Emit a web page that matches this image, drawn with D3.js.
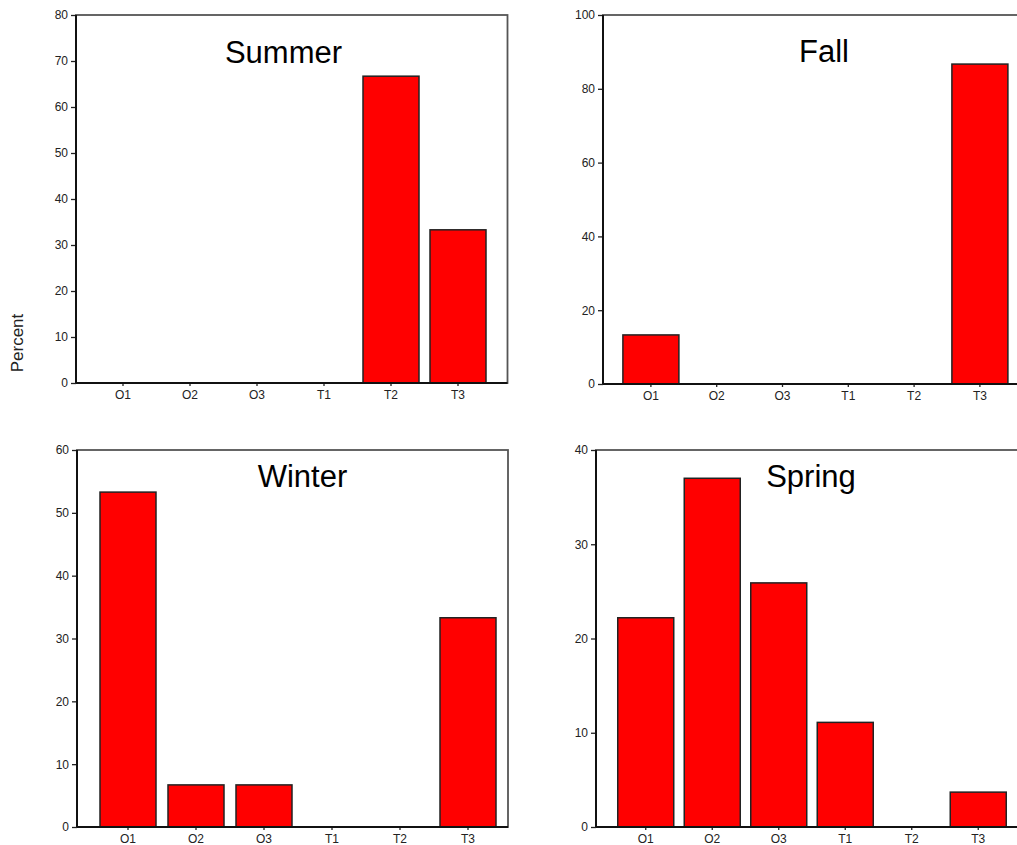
<!DOCTYPE html>
<html>
<head>
<meta charset="utf-8">
<script src="https://cdn.jsdelivr.net/npm/d3@7"></script>
<style>
    body { margin: 0; background: #fff; }
    svg { display: block; font-family: "Liberation Sans", Arial, sans-serif; }
    .tick text { fill: #222; }
    .tick line { stroke: #222; stroke-width: 1.3; }
</style>
</head>
<body>
<svg width="1017" height="845"></svg>
<script>
'use strict';

let categories = ["O1", "O2", "O3", "T1", "T2", "T3"],
    seasons = ["Summer", "Fall", "Winter", "Spring"];

let summerValues = [0, 0, 0, 0, 66.7, 33.3],
    fallValues = [13.3, 0, 0, 0, 0, 86.7],
    winterValues = [53.3, 6.7, 6.7, 0, 0, 33.3],
    springValues = [22.2, 37.0, 25.9, 11.1, 0, 3.7];

let yMaxes = [80, 100, 60, 40],
    yTickSteps = [10, 20, 10, 10];

let seriesValues = [summerValues, fallValues, winterValues, springValues];

// where each panel sits on the page
let panels = [
    { left: 76, top: 15, right: 507.5, bottom: 383, bandStart: 89.5, step: 67, titleX: 283.5, titleY: 63 },
    { left: 603, top: 15, right: 1045, bottom: 384, bandStart: 618, step: 65.8, titleX: 824, titleY: 62 },
    { left: 77, top: 450, right: 508, bottom: 827, bandStart: 94, step: 68, titleX: 302.5, titleY: 487 },
    { left: 596, top: 450, right: 1045, bottom: 827, bandStart: 612.5, step: 66.5, titleX: 811, titleY: 487 }
];

let BAR_WIDTH = 56;

let svg = d3.select("svg");

seasons.forEach(function(season, i) {
    drawPanel(season, seriesValues[i], yMaxes[i], yTickSteps[i], panels[i]);
});

svg.append("text")
    .attr("transform", "translate(23,343) rotate(-90)")
    .attr("text-anchor", "middle")
    .style("font-size", "17px")
    .style("fill", "#222")
    .text("Percent");

function drawPanel(title, values, yMax, tickStep, p) {
    let g = svg.append("g");

    let pad = 1 - BAR_WIDTH / p.step;
    let x = d3.scaleBand()
        .domain(categories)
        .range([p.bandStart, p.bandStart + p.step * categories.length])
        .paddingInner(pad)
        .paddingOuter(pad / 2);

    let y = d3.scaleLinear()
        .domain([0, yMax])
        .range([p.bottom, p.top]);

    // frame
    g.append("rect")
        .attr("x", p.left)
        .attr("y", p.top)
        .attr("width", p.right - p.left)
        .attr("height", p.bottom - p.top)
        .attr("fill", "none")
        .attr("stroke", "#555")
        .attr("stroke-width", 1.8);

    g.append("g")
        .attr("class", "bars")
        .selectAll("rect")
        .data(categories.map(function(c, j) { return { cat: c, value: values[j] }; })
            .filter(function(d) { return d.value > 0; }))
        .enter().append("rect")
        .attr("x", function(d) { return x(d.cat); })
        .attr("y", function(d) { return y(d.value); })
        .attr("width", x.bandwidth())
        .attr("height", function(d) { return p.bottom - y(d.value); })
        .attr("fill", "#ff0000")
        .attr("stroke", "#222")
        .attr("stroke-width", 1.5);

    let yAxis = g.append("g")
        .attr("transform", "translate(" + p.left + ",0)")
        .call(d3.axisLeft(y)
            .tickValues(d3.range(0, yMax + tickStep / 2, tickStep))
            .tickSize(5)
            .tickPadding(3)
            .tickSizeOuter(0));
    yAxis.select(".domain").remove();
    yAxis.selectAll("text").style("font-size", "12px");

    let xAxis = g.append("g")
        .attr("transform", "translate(0," + p.bottom + ")")
        .call(d3.axisBottom(x)
            .tickSize(3)
            .tickPadding(4)
            .tickSizeOuter(0));
    xAxis.select(".domain").remove();
    xAxis.selectAll("text").style("font-size", "12px");

    // axis lines drawn over the frame
    g.append("line")
        .attr("x1", p.left).attr("x2", p.left)
        .attr("y1", p.top).attr("y2", p.bottom)
        .attr("stroke", "#111").attr("stroke-width", 2);
    g.append("line")
        .attr("x1", p.left).attr("x2", p.right)
        .attr("y1", p.bottom).attr("y2", p.bottom)
        .attr("stroke", "#111").attr("stroke-width", 2);

    g.append("text")
        .attr("x", p.titleX)
        .attr("y", p.titleY)
        .attr("text-anchor", "middle")
        .style("font-size", "31px")
        .style("fill", "#000")
        .text(title);
}
</script>
</body>
</html>
